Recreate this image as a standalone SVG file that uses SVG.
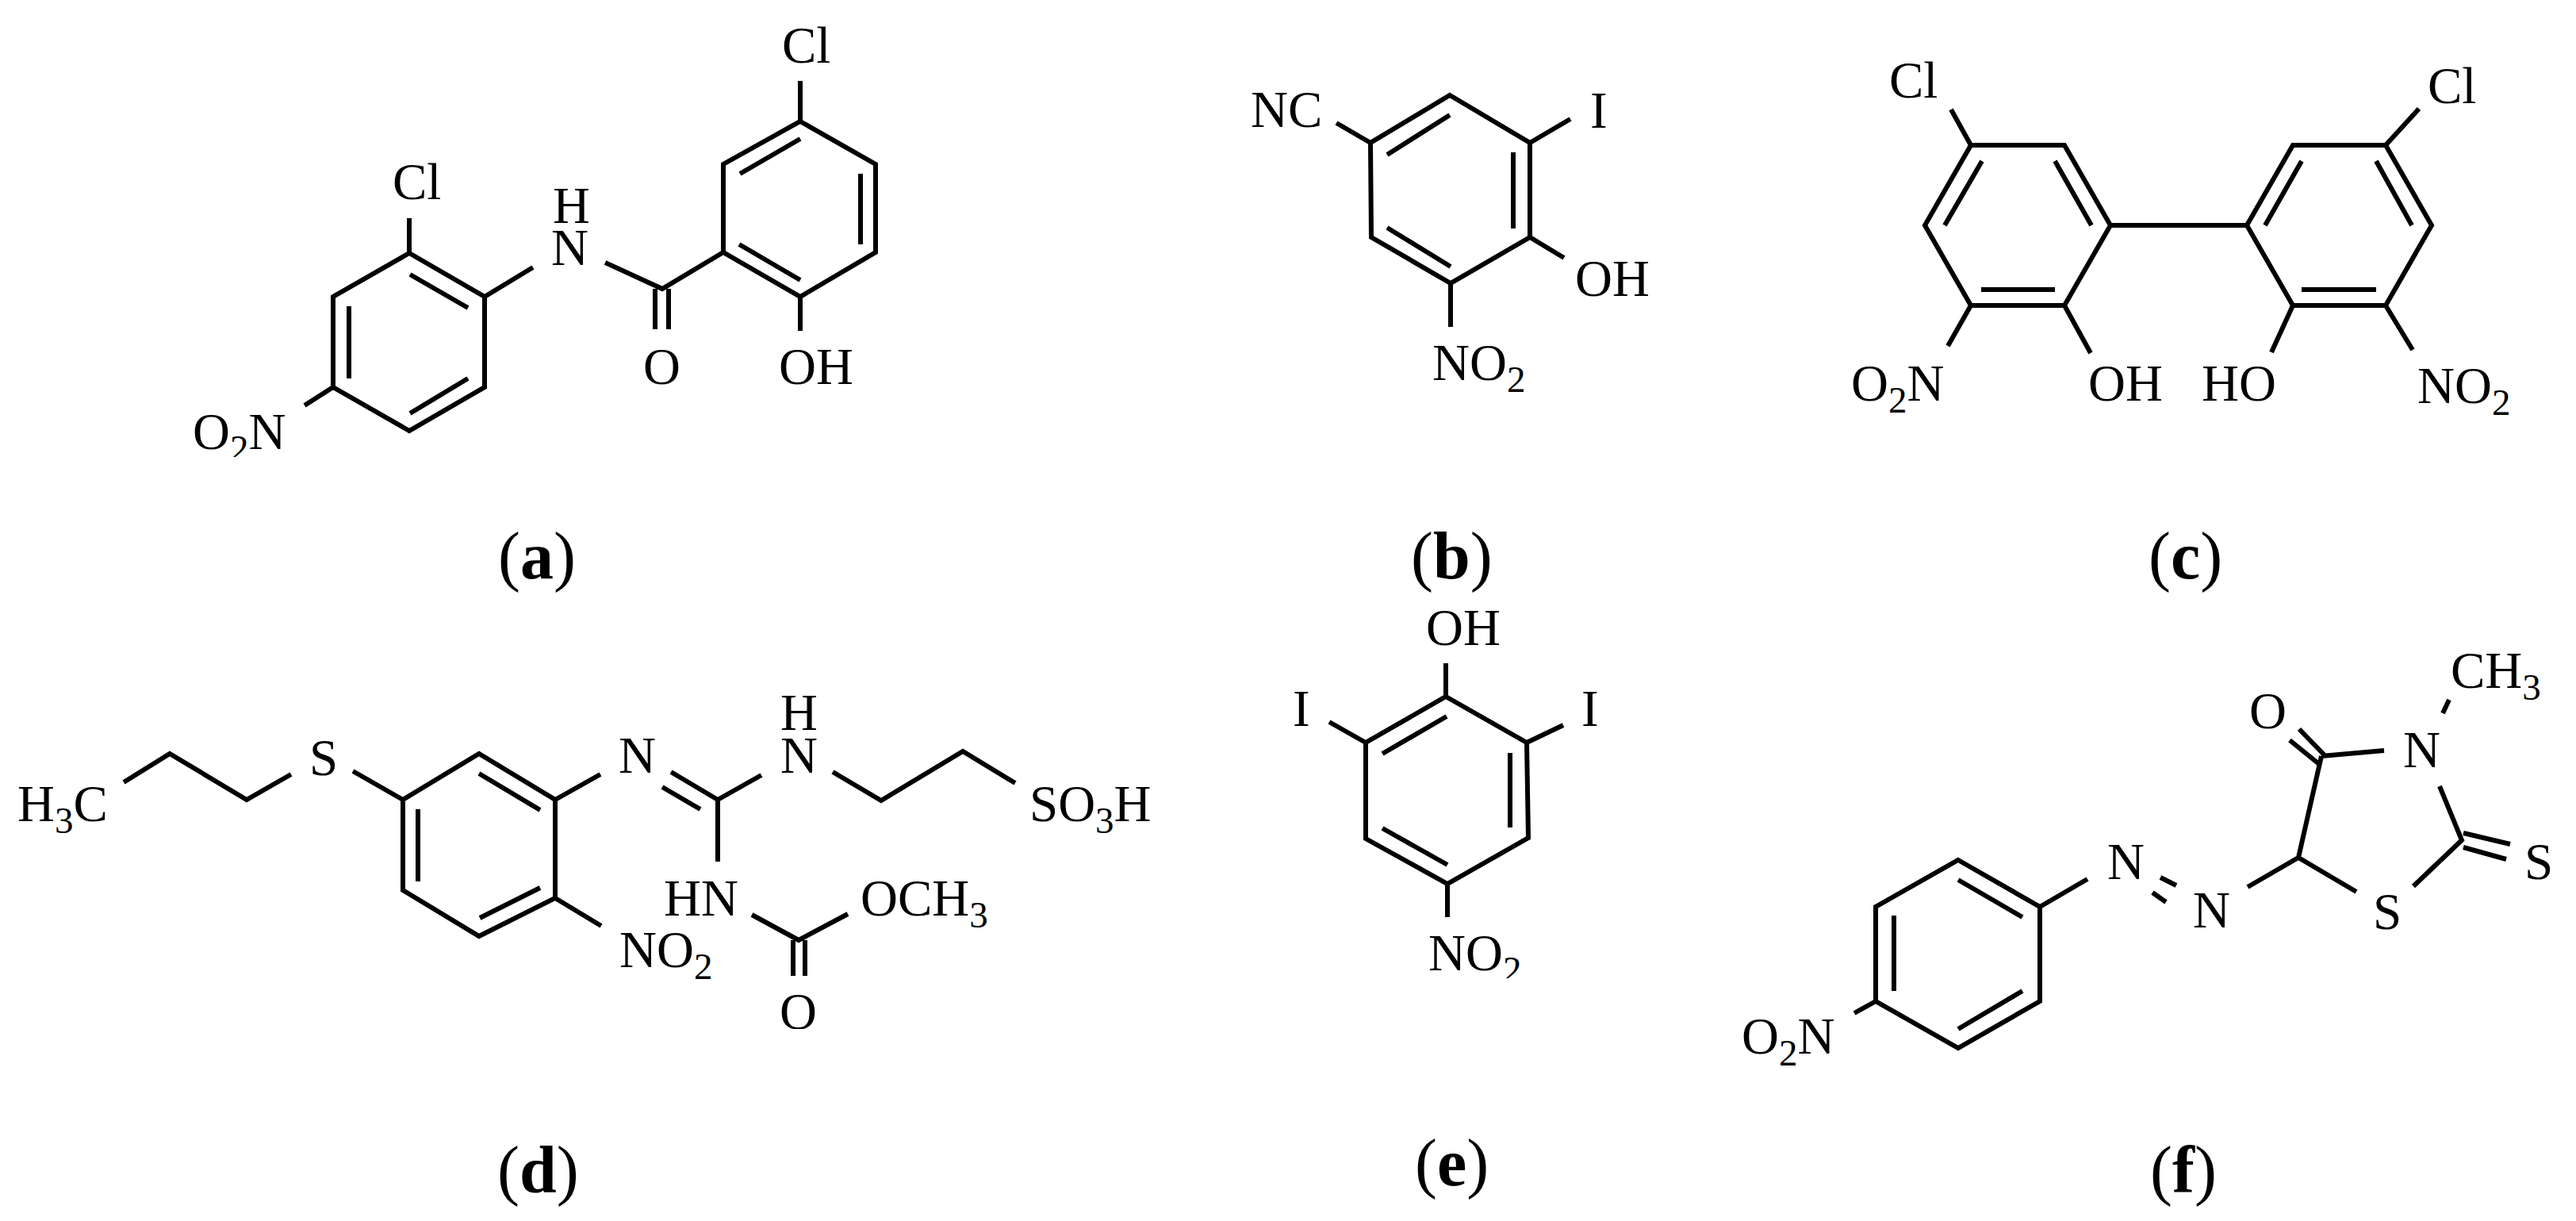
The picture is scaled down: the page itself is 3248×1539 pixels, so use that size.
<svg xmlns="http://www.w3.org/2000/svg" width="3248" height="1539" viewBox="0 0 3248 1539">
<style>
.b{fill:none;stroke:#000;stroke-width:6;stroke-linejoin:miter;stroke-linecap:butt}
text{font-family:"Liberation Serif","Times New Roman",serif;fill:#000}
.l{font-size:65px}
.c{font-size:84px}
.c tspan{font-weight:bold}
.l tspan.s{font-size:47px}
</style>
<defs>
<clipPath id="clipA"><rect x="230" y="500" width="150" height="76"/></clipPath>
<clipPath id="clipD"><rect x="970" y="1240" width="70" height="57"/></clipPath>
<clipPath id="clipE"><rect x="1790" y="1160" width="140" height="73"/></clipPath>
</defs>
<rect width="3248" height="1539" fill="#fff"/>

<g id="mol-a">
<g id="bonds-a"><path class="b" d="M1009 153L1104 207V318L1009 374L912 318V207Z M1009 102V153 M1009 175L933 219 M1085 219V308 M932 308L1009 353 M1009 374V417 M912 318L835 364L763 331 M826 364V415 M843 364V415 M516 319L611 374V488L516 543L420 488V374Z M517 346L590 388 M440 386V477 M517 521L590 477 M516 275V319 M611 374L672 337 M420 488L384 511"/></g>
<g id="labels-a">
<text class="l" x="495" y="251">Cl</text>
<text class="l" x="986" y="79">Cl</text>
<text class="l" x="697" y="281">H</text>
<text class="l" x="695" y="334">N</text>
<text class="l" x="811" y="484">O</text>
<text class="l" x="982" y="484">OH</text>
<text class="l" x="243" y="566" clip-path="url(#clipA)">O<tspan class="s" dy="15">2</tspan><tspan dy="-15">N</tspan></text>
</g>
<text id="cap-a" class="c" x="628" y="729">(<tspan>a</tspan>)</text>
</g>

<g id="mol-b">
<g id="bonds-b"><path class="b" d="M1828 120L1929 180V299L1829 357L1729 299L1728 180Z M1828 145L1749 195 M1908 192V288 M1749 287L1829 336 M1685 155L1728 180 M1929 180L1980 150 M1929 299L1972 325 M1829 357V412"/></g>
<g id="labels-b">
<text class="l" x="1577" y="160">NC</text>
<text class="l" x="2005" y="161">I</text>
<text class="l" x="1986" y="373">OH</text>
<text class="l" x="1806" y="479">NO<tspan class="s" dy="15">2</tspan></text>
</g>
<text id="cap-b" class="c" x="1779" y="729">(<tspan>b</tspan>)</text>
</g>

<g id="mol-c">
<g id="bonds-c"><path class="b" d="M2485 183H2603L2661 284L2603 385H2485L2427 284Z M2499 203L2452 284 M2591 203L2637 284 M2498 365H2591 M2661 284H2833 M2833 284L2891 183H3008L3066 284L3008 385H2891Z M2902 203L2856 284 M2996 203L3041 284 M2902 365H2996 M2485 183L2460 138 M3008 183L3050 137 M2485 385L2456 436 M2603 385L2636 445 M2891 385L2864 444 M3008 385L3042 441"/></g>
<g id="labels-c">
<text class="l" x="2382" y="123">Cl</text>
<text class="l" x="3061" y="130">Cl</text>
<text class="l" x="2334" y="505">O<tspan class="s" dy="15">2</tspan><tspan dy="-15">N</tspan></text>
<text class="l" x="2633" y="505">OH</text>
<text class="l" x="2776" y="505">HO</text>
<text class="l" x="3048" y="508">NO<tspan class="s" dy="15">2</tspan></text>
</g>
<text id="cap-c" class="c" x="2709" y="729">(<tspan>c</tspan>)</text>
</g>

<g id="mol-d">
<g id="bonds-d"><path class="b" d="M156 986L214 950L311 1008L367 976 M445 972L508 1008 M508 1008L604 950L700 1008V1132L604 1180L508 1122Z M527 1020V1111 M604 975L681 1021 M605 1157L681 1119 M700 1008L757 976 M700 1132L758 1167 M846 973L905 1008 M835 992L883 1020 M905 1008L960 977 M905 1008V1086 M1050 973L1111 1009L1214 947L1280 987 M948 1153L1007 1185L1069 1152 M1000 1185V1230 M1015 1185V1230"/></g>
<g id="labels-d">
<text class="l" x="22" y="1035">H<tspan class="s" dy="15">3</tspan><tspan dy="-15">C</tspan></text>
<text class="l" x="390" y="977">S</text>
<text class="l" x="780" y="974">N</text>
<text class="l" x="984" y="920">H</text>
<text class="l" x="984" y="974">N</text>
<text class="l" x="1298" y="1035">SO<tspan class="s" dy="15">3</tspan><tspan dy="-15">H</tspan></text>
<text class="l" x="837" y="1154">HN</text>
<text class="l" x="1085" y="1154">OCH<tspan class="s" dy="15">3</tspan></text>
<text class="l" x="781" y="1219">NO<tspan class="s" dy="15">2</tspan></text>
<text class="l" x="983" y="1297" clip-path="url(#clipD)">O</text>
</g>
<text id="cap-d" class="c" x="627" y="1503">(<tspan>d</tspan>)</text>
</g>

<g id="mol-e">
<g id="bonds-e"><path class="b" d="M1823 878L1925 936L1927 1056L1825 1114L1722 1057L1722 936Z M1824 903L1743 950 M1904 949V1043 M1743 1044L1825 1090 M1823 878V836 M1722 936L1676 910 M1925 936L1971 914 M1825 1114V1156"/></g>
<g id="labels-e">
<text class="l" x="1798" y="813">OH</text>
<text class="l" x="1630" y="915">I</text>
<text class="l" x="1994" y="915">I</text>
<text class="l" x="1801" y="1223" clip-path="url(#clipE)">NO<tspan class="s" dy="15">2</tspan></text>
</g>
<text id="cap-e" class="c" x="1784" y="1494">(<tspan>e</tspan>)</text>
</g>

<g id="mol-f">
<g id="bonds-f"><path class="b" d="M2469 1084L2572 1143V1262L2469 1321L2365 1262V1143Z M2469 1109L2550 1156 M2388 1154V1249 M2469 1297L2550 1249 M2365 1262L2338 1277 M2572 1143L2632 1108 M2724 1106L2744 1116 M2714 1125L2731 1137 M2834 1118L2898 1081L2971 1124 M2898 1081L2927 953 M2887 933L2924 963 M2899 919L2932 953 M2927 953L3006 946 M3088 882L3080 899 M3076 991L3104 1059L3043 1117 M3106 1050L3165 1064 M3106 1068L3160 1083"/></g>
<g id="labels-f">
<text class="l" x="2657" y="1108">N</text>
<text class="l" x="2765" y="1169">N</text>
<text class="l" x="3030" y="967">N</text>
<text class="l" x="2836" y="918">O</text>
<text class="l" x="3090" y="867">CH<tspan class="s" dy="15">3</tspan></text>
<text class="l" x="2992" y="1171">S</text>
<text class="l" x="3183" y="1108">S</text>
<text class="l" x="2196" y="1328">O<tspan class="s" dy="15">2</tspan><tspan dy="-15">N</tspan></text>
</g>
<text id="cap-f" class="c" x="2711" y="1503">(<tspan>f</tspan>)</text>
</g>
</svg>
